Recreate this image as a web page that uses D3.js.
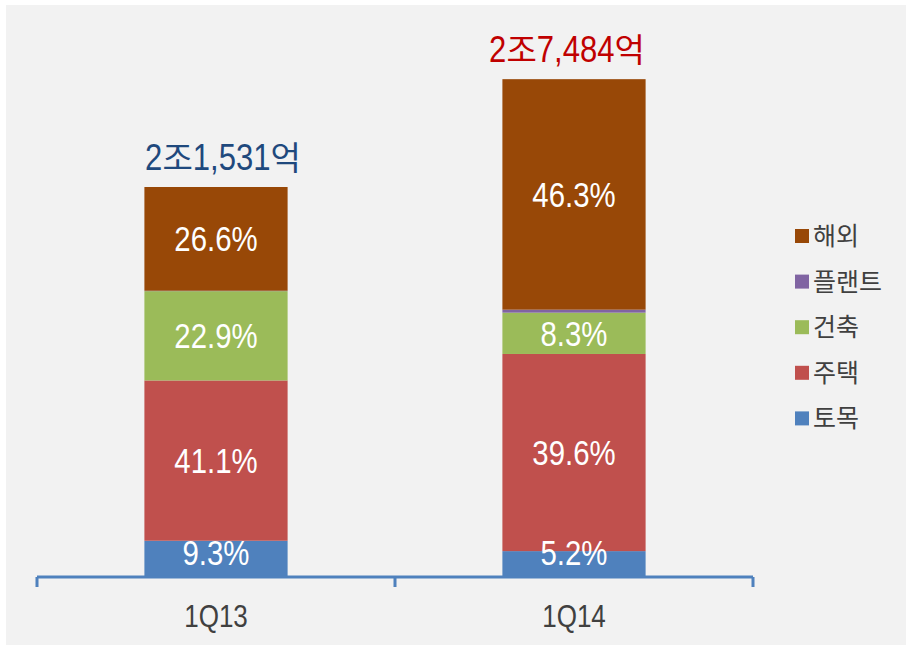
<!DOCTYPE html>
<html><head><meta charset="utf-8">
<script src="https://cdn.jsdelivr.net/npm/d3@7"></script>
<style>html,body{margin:0;padding:0;background:#fff;}svg{display:block;}</style>
</head><body>
<svg id="chart" width="906" height="645"></svg>
<script>
// ---- data ----
const categories = ["1Q13", "1Q14"];
const totals = [21531, 27484];               // 억원
const totalLabels = ["2조1,531억", "2조7,484억"];
const seriesNames = ["토목", "주택", "건축", "플랜트", "해외"]; // bottom -> top
const sharesTomok = [9.3, 5.2];
const sharesHousing = [41.1, 39.6];
const sharesBuilding = [22.9, 8.3];
const sharesPlant = [0.1, 0.6];
const sharesOverseas = [26.6, 46.3];
const shareLabels = [
  ["9.3%", "41.1%", "22.9%", "", "26.6%"],
  ["5.2%", "39.6%", "8.3%", "", "46.3%"]
];

// ---- style ----
const colors = {"토목":"#4F81BD","주택":"#C0504D","건축":"#9BBB59","플랜트":"#8064A2","해외":"#984807"};
const totalColors = ["#1F497D", "#C00000"];
const latin = "'Liberation Sans',Arial,sans-serif";
const korean = "'Noto Sans CJK KR','Noto Sans',sans-serif";
const SX = 0.84; // horizontal condensing of Latin text

const svg = d3.select("#chart");
svg.append("rect").attr("x", 6).attr("y", 5).attr("width", 900).attr("height", 640).attr("fill", "#f2f2f2");

const x = d3.scaleBand().domain(categories).range([37, 753]).paddingInner(0.6).paddingOuter(0.3);
const xOuter = d3.scaleBand().domain(categories).range([37, 753]).padding(0);
const y = d3.scaleLinear().domain([0, 30000]).range([577, 577 - 390 * 30000 / 21531]);

const shareArrays = [sharesTomok, sharesHousing, sharesBuilding, sharesPlant, sharesOverseas];
const rows = categories.map((c, i) => {
  const sum = d3.sum(shareArrays, a => a[i]);
  const r = {cat: c};
  seriesNames.forEach((s, k) => r[s] = totals[i] * shareArrays[k][i] / sum);
  return r;
});
const stack = d3.stack().keys(seriesNames)(rows);

function condensed(parent, tx, ty, txt, size, fill) {
  return parent.append("text")
    .attr("transform", `translate(${tx},${ty}) scale(${SX},1)`)
    .attr("text-anchor", "middle")
    .attr("font-family", latin)
    .attr("font-size", size)
    .attr("fill", fill)
    .text(txt);
}

const g = svg.append("g");
stack.forEach((layer) => {
  g.selectAll(null).data(layer).enter().append("rect")
    .attr("x", d => x(d.data.cat))
    .attr("width", x.bandwidth())
    .attr("y", d => y(d[1]))
    .attr("height", d => y(d[0]) - y(d[1]))
    .attr("fill", colors[layer.key]);
});

// segment labels
stack.forEach((layer, k) => {
  layer.forEach((d, i) => {
    const txt = shareLabels[i][k];
    if (!txt) return;
    let cy = (y(d[0]) + y(d[1])) / 2;
    cy = Math.min(cy, y(0) - 24.5);
    condensed(g, x(d.data.cat) + x.bandwidth() / 2, cy + 12.5, txt, 35, "#ffffff");
  });
});

// total labels (mixed runs: condensed Latin digits + Hangul)
const totalDx = [7, -7];
categories.forEach((c, i) => {
  const grp = g.append("g");
  const runs = totalLabels[i].match(/[\uAC00-\uD7A3]+|[^\uAC00-\uD7A3]+/g);
  let cursor = 0;
  runs.forEach(r => {
    const isK = /[\uAC00-\uD7A3]/.test(r);
    const sx = isK ? 1 : SX;
    const t = grp.append("text")
      .attr("font-family", isK ? korean : latin)
      .attr("font-size", isK ? 33 : 37)
      .attr("fill", totalColors[i])
      .text(r);
    const w = t.node().getComputedTextLength() * sx;
    t.attr("transform", `translate(${cursor},0) scale(${sx},1)`);
    cursor += w;
  });
  const cx = x(c) + x.bandwidth() / 2 + totalDx[i];
  grp.attr("transform", `translate(${cx - cursor / 2},${y(totals[i]) - 17})`);
});

// axis
const axisG = svg.append("g").attr("transform", `translate(0,${y(0)})`);
axisG.append("line").attr("x1", 37).attr("x2", 753).attr("y1", 0).attr("y2", 0)
  .attr("stroke", "#4F81BD").attr("stroke-width", 3);
const bounds = categories.map(c => xOuter(c)).concat([xOuter(categories[categories.length - 1]) + xOuter.bandwidth()]);
axisG.selectAll(null).data(bounds).enter().append("line")
  .attr("x1", d => d).attr("x2", d => d).attr("y1", 0).attr("y2", 10)
  .attr("stroke", "#4F81BD").attr("stroke-width", 3);
categories.forEach(c => condensed(axisG, x(c) + x.bandwidth() / 2, 50, c, 31, "#404040"));

// legend
const legendOrder = seriesNames.slice().reverse();
const lg = svg.append("g");
legendOrder.forEach((s, k) => {
  const cy = 236 + k * 45.6;
  lg.append("rect").attr("x", 795).attr("y", cy - 7).attr("width", 14).attr("height", 14).attr("fill", colors[s]);
  lg.append("text").attr("x", 813).attr("y", cy + 9)
    .attr("font-family", korean).attr("font-size", 25).attr("fill", "#404040").text(s);
});
</script>
</body></html>
